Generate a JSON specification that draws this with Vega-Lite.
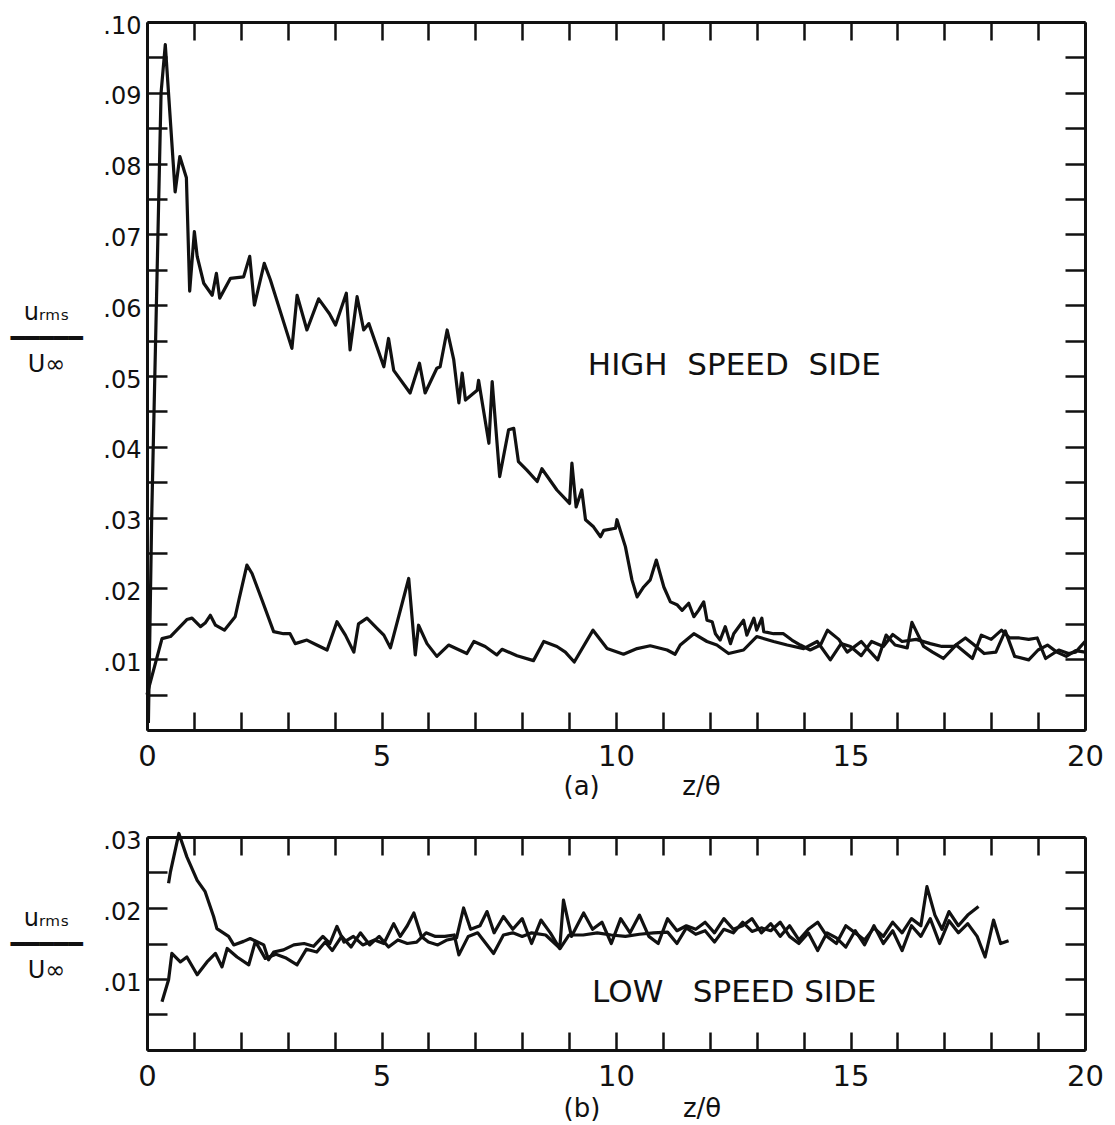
{
  "$schema": "https://vega.github.io/schema/vega-lite/v6.json",
  "background": "white",
  "padding": {"left": 9, "top": 14, "right": 5, "bottom": 5},
  "config": {"view": {"stroke": null}, "font": "DejaVu Sans"},
  "datasets": {
    "a": [
      {"s":"h","z":0.03,"u":0.001},{"s":"h","z":0.10,"u":0.030},{"s":"h","z":0.20,"u":0.060},{"s":"h","z":0.30,"u":0.090},{"s":"h","z":0.39,"u":0.0968},{"s":"h","z":0.60,"u":0.0760},{"s":"h","z":0.70,"u":0.0810},{"s":"h","z":0.84,"u":0.0780},{"s":"h","z":0.91,"u":0.0620},{"s":"h","z":1.01,"u":0.0704},{"s":"h","z":1.07,"u":0.0669},{"s":"h","z":1.21,"u":0.0631},{"s":"h","z":1.39,"u":0.0614},{"s":"h","z":1.48,"u":0.0645},{"s":"h","z":1.55,"u":0.0610},{"s":"h","z":1.78,"u":0.0638},{"s":"h","z":2.06,"u":0.0640},{"s":"h","z":2.19,"u":0.0669},{"s":"h","z":2.29,"u":0.0600},{"s":"h","z":2.50,"u":0.0659},{"s":"h","z":2.63,"u":0.0636},{"s":"h","z":3.09,"u":0.0539},{"s":"h","z":3.20,"u":0.0614},{"s":"h","z":3.41,"u":0.0565},{"s":"h","z":3.66,"u":0.0609},{"s":"h","z":3.89,"u":0.0588},{"s":"h","z":4.02,"u":0.0572},{"s":"h","z":4.25,"u":0.0617},{"s":"h","z":4.33,"u":0.0537},{"s":"h","z":4.48,"u":0.0612},{"s":"h","z":4.62,"u":0.0565},{"s":"h","z":4.73,"u":0.0574},{"s":"h","z":5.05,"u":0.0513},{"s":"h","z":5.15,"u":0.0553},{"s":"h","z":5.26,"u":0.0508},{"s":"h","z":5.61,"u":0.0476},{"s":"h","z":5.81,"u":0.0518},{"s":"h","z":5.93,"u":0.0476},{"s":"h","z":6.18,"u":0.0511},{"s":"h","z":6.25,"u":0.0513},{"s":"h","z":6.40,"u":0.0565},{"s":"h","z":6.54,"u":0.0523},{"s":"h","z":6.65,"u":0.0462},{"s":"h","z":6.72,"u":0.0504},{"s":"h","z":6.79,"u":0.0466},{"s":"h","z":7.04,"u":0.0480},{"s":"h","z":7.07,"u":0.0494},{"s":"h","z":7.29,"u":0.0405},{"s":"h","z":7.36,"u":0.0492},{"s":"h","z":7.52,"u":0.0358},{"s":"h","z":7.71,"u":0.0424},{"s":"h","z":7.82,"u":0.0426},{"s":"h","z":7.92,"u":0.0379},{"s":"h","z":8.10,"u":0.0367},{"s":"h","z":8.32,"u":0.0351},{"s":"h","z":8.42,"u":0.0369},{"s":"h","z":8.74,"u":0.0339},{"s":"h","z":9.01,"u":0.0320},{"s":"h","z":9.06,"u":0.0377},{"s":"h","z":9.15,"u":0.0315},{"s":"h","z":9.27,"u":0.0339},{"s":"h","z":9.35,"u":0.0297},{"s":"h","z":9.52,"u":0.0287},{"s":"h","z":9.67,"u":0.0273},{"s":"h","z":9.74,"u":0.0282},{"s":"h","z":9.99,"u":0.0285},{"s":"h","z":10.02,"u":0.0297},{"s":"h","z":10.20,"u":0.0259},{"s":"h","z":10.34,"u":0.0212},{"s":"h","z":10.45,"u":0.0188},{"s":"h","z":10.59,"u":0.0202},{"s":"h","z":10.73,"u":0.0212},{"s":"h","z":10.86,"u":0.0240},{"s":"h","z":11.02,"u":0.0202},{"s":"h","z":11.16,"u":0.0181},{"s":"h","z":11.30,"u":0.0177},{"s":"h","z":11.41,"u":0.0169},{"s":"h","z":11.55,"u":0.0179},{"s":"h","z":11.66,"u":0.0160},{"s":"h","z":11.76,"u":0.0169},{"s":"h","z":11.87,"u":0.0181},{"s":"h","z":11.94,"u":0.0155},{"s":"h","z":12.05,"u":0.0153},{"s":"h","z":12.12,"u":0.0136},{"s":"h","z":12.22,"u":0.0127},{"s":"h","z":12.33,"u":0.0146},{"s":"h","z":12.44,"u":0.0122},{"s":"h","z":12.51,"u":0.0136},{"s":"h","z":12.72,"u":0.0155},{"s":"h","z":12.79,"u":0.0134},{"s":"h","z":12.94,"u":0.0158},{"s":"h","z":13.00,"u":0.0141},{"s":"h","z":13.11,"u":0.0158},{"s":"h","z":13.15,"u":0.0139},{"s":"h","z":13.36,"u":0.0136},{"s":"h","z":13.57,"u":0.0136},{"s":"h","z":13.75,"u":0.0127},{"s":"h","z":13.93,"u":0.0120},{"s":"h","z":14.14,"u":0.0113},{"s":"h","z":14.36,"u":0.0120},{"s":"h","z":14.51,"u":0.0141},{"s":"h","z":14.75,"u":0.0128},{"s":"h","z":14.93,"u":0.0110},{"s":"h","z":15.23,"u":0.0125},{"s":"h","z":15.40,"u":0.0112},{"s":"h","z":15.58,"u":0.0099},{"s":"h","z":15.76,"u":0.0134},{"s":"h","z":15.95,"u":0.0120},{"s":"h","z":16.21,"u":0.0116},{"s":"h","z":16.31,"u":0.0152},{"s":"h","z":16.56,"u":0.0118},{"s":"h","z":16.75,"u":0.0110},{"s":"h","z":16.98,"u":0.0101},{"s":"h","z":17.25,"u":0.0120},{"s":"h","z":17.60,"u":0.0101},{"s":"h","z":17.79,"u":0.0134},{"s":"h","z":18.00,"u":0.0128},{"s":"h","z":18.22,"u":0.0141},{"s":"h","z":18.39,"u":0.0130},{"s":"h","z":18.60,"u":0.0130},{"s":"h","z":18.80,"u":0.0128},{"s":"h","z":18.98,"u":0.0130},{"s":"h","z":19.16,"u":0.0101},{"s":"h","z":19.44,"u":0.0113},{"s":"h","z":19.65,"u":0.0108},{"s":"h","z":19.80,"u":0.0110},{"s":"h","z":20.00,"u":0.0125},
      {"s":"l","z":0.00,"u":0.0050},{"s":"l","z":0.32,"u":0.0129},{"s":"l","z":0.50,"u":0.0132},{"s":"l","z":0.85,"u":0.0156},{"s":"l","z":0.96,"u":0.0158},{"s":"l","z":1.14,"u":0.0146},{"s":"l","z":1.24,"u":0.0151},{"s":"l","z":1.35,"u":0.0162},{"s":"l","z":1.46,"u":0.0148},{"s":"l","z":1.65,"u":0.0141},{"s":"l","z":1.88,"u":0.0160},{"s":"l","z":1.96,"u":0.0184},{"s":"l","z":2.13,"u":0.0233},{"s":"l","z":2.24,"u":0.0221},{"s":"l","z":2.45,"u":0.0184},{"s":"l","z":2.70,"u":0.0139},{"s":"l","z":2.91,"u":0.0136},{"s":"l","z":3.05,"u":0.0136},{"s":"l","z":3.16,"u":0.0122},{"s":"l","z":3.41,"u":0.0127},{"s":"l","z":3.62,"u":0.0120},{"s":"l","z":3.84,"u":0.0113},{"s":"l","z":4.05,"u":0.0153},{"s":"l","z":4.23,"u":0.0134},{"s":"l","z":4.41,"u":0.0110},{"s":"l","z":4.51,"u":0.0150},{"s":"l","z":4.69,"u":0.0158},{"s":"l","z":4.90,"u":0.0144},{"s":"l","z":5.05,"u":0.0134},{"s":"l","z":5.19,"u":0.0116},{"s":"l","z":5.58,"u":0.0214},{"s":"l","z":5.72,"u":0.0106},{"s":"l","z":5.79,"u":0.0148},{"s":"l","z":5.97,"u":0.0122},{"s":"l","z":6.18,"u":0.0104},{"s":"l","z":6.43,"u":0.0120},{"s":"l","z":6.82,"u":0.0108},{"s":"l","z":6.97,"u":0.0125},{"s":"l","z":7.21,"u":0.0118},{"s":"l","z":7.46,"u":0.0106},{"s":"l","z":7.57,"u":0.0114},{"s":"l","z":7.89,"u":0.0105},{"s":"l","z":8.24,"u":0.0098},{"s":"l","z":8.46,"u":0.0125},{"s":"l","z":8.74,"u":0.0118},{"s":"l","z":8.92,"u":0.0110},{"s":"l","z":9.11,"u":0.0096},{"s":"l","z":9.51,"u":0.0141},{"s":"l","z":9.81,"u":0.0115},{"s":"l","z":10.16,"u":0.0107},{"s":"l","z":10.45,"u":0.0115},{"s":"l","z":10.73,"u":0.0119},{"s":"l","z":11.09,"u":0.0113},{"s":"l","z":11.26,"u":0.0107},{"s":"l","z":11.37,"u":0.0120},{"s":"l","z":11.66,"u":0.0136},{"s":"l","z":11.94,"u":0.0125},{"s":"l","z":12.15,"u":0.0120},{"s":"l","z":12.40,"u":0.0108},{"s":"l","z":12.72,"u":0.0113},{"s":"l","z":13.00,"u":0.0132},{"s":"l","z":13.36,"u":0.0125},{"s":"l","z":13.65,"u":0.0120},{"s":"l","z":14.00,"u":0.0115},{"s":"l","z":14.29,"u":0.0125},{"s":"l","z":14.57,"u":0.0099},{"s":"l","z":14.80,"u":0.0122},{"s":"l","z":15.00,"u":0.0118},{"s":"l","z":15.23,"u":0.0105},{"s":"l","z":15.45,"u":0.0125},{"s":"l","z":15.70,"u":0.0118},{"s":"l","z":15.90,"u":0.0135},{"s":"l","z":16.10,"u":0.0125},{"s":"l","z":16.40,"u":0.0128},{"s":"l","z":16.70,"u":0.0122},{"s":"l","z":16.95,"u":0.0118},{"s":"l","z":17.20,"u":0.0118},{"s":"l","z":17.45,"u":0.0130},{"s":"l","z":17.62,"u":0.0121},{"s":"l","z":17.85,"u":0.0108},{"s":"l","z":18.10,"u":0.0110},{"s":"l","z":18.30,"u":0.0140},{"s":"l","z":18.50,"u":0.0104},{"s":"l","z":18.80,"u":0.0099},{"s":"l","z":19.00,"u":0.0113},{"s":"l","z":19.20,"u":0.0120},{"s":"l","z":19.40,"u":0.0110},{"s":"l","z":19.60,"u":0.0104},{"s":"l","z":19.80,"u":0.0112},{"s":"l","z":20.00,"u":0.0110}
    ],
    "b": [
      {"s":"p","z":0.46,"u":0.0235},{"s":"p","z":0.50,"u":0.0251},{"s":"p","z":0.68,"u":0.0305},{"s":"p","z":0.85,"u":0.0272},{"s":"p","z":1.07,"u":0.0239},{"s":"p","z":1.24,"u":0.0223},{"s":"p","z":1.42,"u":0.0188},{"s":"p","z":1.49,"u":0.0171},{"s":"p","z":1.74,"u":0.0160},{"s":"p","z":1.85,"u":0.0148},{"s":"p","z":2.06,"u":0.0153},{"s":"p","z":2.20,"u":0.0157},{"s":"p","z":2.49,"u":0.0148},{"s":"p","z":2.59,"u":0.0127},{"s":"p","z":2.70,"u":0.0138},{"s":"p","z":2.91,"u":0.0141},{"s":"p","z":3.13,"u":0.0148},{"s":"p","z":3.35,"u":0.0150},{"s":"p","z":3.55,"u":0.0146},{"s":"p","z":3.75,"u":0.0160},{"s":"p","z":3.90,"u":0.0150},{"s":"p","z":4.05,"u":0.0174},{"s":"p","z":4.20,"u":0.0152},{"s":"p","z":4.40,"u":0.0160},{"s":"p","z":4.60,"u":0.0148},{"s":"p","z":4.85,"u":0.0155},{"s":"p","z":5.05,"u":0.0150},{"s":"p","z":5.26,"u":0.0178},{"s":"p","z":5.40,"u":0.0160},{"s":"p","z":5.55,"u":0.0175},{"s":"p","z":5.69,"u":0.0193},{"s":"p","z":5.85,"u":0.0160},{"s":"p","z":6.00,"u":0.0152},{"s":"p","z":6.20,"u":0.0148},{"s":"p","z":6.40,"u":0.0155},{"s":"p","z":6.60,"u":0.0158},{"s":"p","z":6.75,"u":0.0200},{"s":"p","z":6.90,"u":0.0170},{"s":"p","z":7.10,"u":0.0175},{"s":"p","z":7.25,"u":0.0195},{"s":"p","z":7.40,"u":0.0165},{"s":"p","z":7.60,"u":0.0188},{"s":"p","z":7.80,"u":0.0170},{"s":"p","z":8.00,"u":0.0185},{"s":"p","z":8.20,"u":0.0150},{"s":"p","z":8.40,"u":0.0183},{"s":"p","z":8.60,"u":0.0165},{"s":"p","z":8.80,"u":0.0143},{"s":"p","z":8.88,"u":0.0211},{"s":"p","z":9.05,"u":0.0160},{"s":"p","z":9.31,"u":0.0193},{"s":"p","z":9.50,"u":0.0170},{"s":"p","z":9.70,"u":0.0180},{"s":"p","z":9.90,"u":0.0150},{"s":"p","z":10.10,"u":0.0185},{"s":"p","z":10.30,"u":0.0165},{"s":"p","z":10.50,"u":0.0190},{"s":"p","z":10.70,"u":0.0160},{"s":"p","z":10.90,"u":0.0150},{"s":"p","z":11.10,"u":0.0185},{"s":"p","z":11.30,"u":0.0168},{"s":"p","z":11.50,"u":0.0175},{"s":"p","z":11.70,"u":0.0170},{"s":"p","z":11.90,"u":0.0180},{"s":"p","z":12.10,"u":0.0165},{"s":"p","z":12.30,"u":0.0185},{"s":"p","z":12.50,"u":0.0170},{"s":"p","z":12.70,"u":0.0175},{"s":"p","z":12.90,"u":0.0185},{"s":"p","z":13.10,"u":0.0165},{"s":"p","z":13.30,"u":0.0178},{"s":"p","z":13.50,"u":0.0160},{"s":"p","z":13.70,"u":0.0175},{"s":"p","z":13.90,"u":0.0155},{"s":"p","z":14.10,"u":0.0170},{"s":"p","z":14.30,"u":0.0180},{"s":"p","z":14.50,"u":0.0160},{"s":"p","z":14.70,"u":0.0150},{"s":"p","z":14.90,"u":0.0175},{"s":"p","z":15.10,"u":0.0165},{"s":"p","z":15.30,"u":0.0155},{"s":"p","z":15.50,"u":0.0172},{"s":"p","z":15.70,"u":0.0160},{"s":"p","z":15.90,"u":0.0180},{"s":"p","z":16.10,"u":0.0165},{"s":"p","z":16.30,"u":0.0185},{"s":"p","z":16.50,"u":0.0175},{"s":"p","z":16.63,"u":0.0230},{"s":"p","z":16.80,"u":0.0190},{"s":"p","z":16.95,"u":0.0170},{"s":"p","z":17.10,"u":0.0195},{"s":"p","z":17.30,"u":0.0175},{"s":"p","z":17.50,"u":0.0190},{"s":"p","z":17.73,"u":0.0202},
      {"s":"q","z":0.32,"u":0.0068},{"s":"q","z":0.46,"u":0.0099},{"s":"q","z":0.53,"u":0.0136},{"s":"q","z":0.71,"u":0.0124},{"s":"q","z":0.85,"u":0.0131},{"s":"q","z":1.07,"u":0.0106},{"s":"q","z":1.28,"u":0.0124},{"s":"q","z":1.46,"u":0.0136},{"s":"q","z":1.60,"u":0.0117},{"s":"q","z":1.71,"u":0.0143},{"s":"q","z":1.92,"u":0.0131},{"s":"q","z":2.17,"u":0.0120},{"s":"q","z":2.31,"u":0.0153},{"s":"q","z":2.52,"u":0.0129},{"s":"q","z":2.75,"u":0.0135},{"s":"q","z":2.95,"u":0.0130},{"s":"q","z":3.20,"u":0.0120},{"s":"q","z":3.40,"u":0.0142},{"s":"q","z":3.62,"u":0.0138},{"s":"q","z":3.80,"u":0.0152},{"s":"q","z":3.95,"u":0.0140},{"s":"q","z":4.15,"u":0.0160},{"s":"q","z":4.35,"u":0.0145},{"s":"q","z":4.55,"u":0.0165},{"s":"q","z":4.75,"u":0.0148},{"s":"q","z":4.95,"u":0.0160},{"s":"q","z":5.15,"u":0.0145},{"s":"q","z":5.35,"u":0.0155},{"s":"q","z":5.55,"u":0.0150},{"s":"q","z":5.75,"u":0.0152},{"s":"q","z":5.95,"u":0.0165},{"s":"q","z":6.15,"u":0.0160},{"s":"q","z":6.35,"u":0.0160},{"s":"q","z":6.55,"u":0.0162},{"s":"q","z":6.65,"u":0.0134},{"s":"q","z":6.85,"u":0.0160},{"s":"q","z":7.05,"u":0.0165},{"s":"q","z":7.39,"u":0.0136},{"s":"q","z":7.60,"u":0.0162},{"s":"q","z":7.80,"u":0.0165},{"s":"q","z":8.00,"u":0.0160},{"s":"q","z":8.20,"u":0.0165},{"s":"q","z":8.50,"u":0.0162},{"s":"q","z":8.81,"u":0.0143},{"s":"q","z":9.00,"u":0.0162},{"s":"q","z":9.30,"u":0.0162},{"s":"q","z":9.60,"u":0.0165},{"s":"q","z":9.90,"u":0.0162},{"s":"q","z":10.20,"u":0.0160},{"s":"q","z":10.50,"u":0.0163},{"s":"q","z":10.80,"u":0.0165},{"s":"q","z":11.10,"u":0.0166},{"s":"q","z":11.30,"u":0.0150},{"s":"q","z":11.50,"u":0.0172},{"s":"q","z":11.70,"u":0.0163},{"s":"q","z":11.90,"u":0.0168},{"s":"q","z":12.10,"u":0.0152},{"s":"q","z":12.30,"u":0.0170},{"s":"q","z":12.50,"u":0.0165},{"s":"q","z":12.70,"u":0.0180},{"s":"q","z":12.90,"u":0.0167},{"s":"q","z":13.10,"u":0.0172},{"s":"q","z":13.30,"u":0.0168},{"s":"q","z":13.50,"u":0.0180},{"s":"q","z":13.70,"u":0.0160},{"s":"q","z":13.90,"u":0.0150},{"s":"q","z":14.10,"u":0.0165},{"s":"q","z":14.30,"u":0.0140},{"s":"q","z":14.50,"u":0.0165},{"s":"q","z":14.70,"u":0.0158},{"s":"q","z":14.90,"u":0.0145},{"s":"q","z":15.10,"u":0.0168},{"s":"q","z":15.30,"u":0.0148},{"s":"q","z":15.50,"u":0.0175},{"s":"q","z":15.70,"u":0.0150},{"s":"q","z":15.90,"u":0.0168},{"s":"q","z":16.10,"u":0.0140},{"s":"q","z":16.30,"u":0.0175},{"s":"q","z":16.50,"u":0.0160},{"s":"q","z":16.70,"u":0.0185},{"s":"q","z":16.90,"u":0.0150},{"s":"q","z":17.10,"u":0.0182},{"s":"q","z":17.30,"u":0.0165},{"s":"q","z":17.50,"u":0.0178},{"s":"q","z":17.70,"u":0.0160},{"s":"q","z":17.87,"u":0.0131},{"s":"q","z":18.05,"u":0.0183},{"s":"q","z":18.20,"u":0.0150},{"s":"q","z":18.37,"u":0.0154}
    ],
    "labA": [{"z": 9.4, "u": 0.0514, "t": "HIGH\u00a0\u00a0SPEED\u00a0\u00a0SIDE"}],
    "labB": [{"z": 9.49, "u": 0.0080, "t": "LOW\u00a0\u00a0\u00a0SPEED\u00a0SIDE"}]
  },
  "vconcat": [
    {
      "width": 938,
      "height": 708,
      "layer": [
        {
          "data": {"name": "a"},
          "mark": {"type": "line", "color": "#111", "strokeWidth": 3.2, "strokeJoin": "round"},
          "encoding": {
            "x": {"field": "z", "type": "quantitative", "scale": {"domain": [0, 20], "nice": false},
              "axis": {"orient": "bottom", "values": [0,1,2,3,4,5,6,7,8,9,10,11,12,13,14,15,16,17,18,19,20], "format": "d",
                "labelExpr": "datum.value % 5 == 0 ? datum.label : ''", "labelFlush": false, "labelOverlap": false,
                "labelFont": "DejaVu Sans", "labelFontSize": 29, "labelColor": "#111", "labelPadding": 30,
                "tickSize": -18, "tickWidth": 2.5, "tickColor": "#111", "domainColor": "#111", "domainWidth": 3, "grid": false,
                "title": "(a)\u00a0\u00a0\u00a0\u00a0\u00a0\u00a0\u00a0\u00a0\u00a0\u00a0z/θ", "titleFont": "DejaVu Sans", "titleFontSize": 26, "titleFontWeight": "normal", "titleColor": "#111",
                "titleAlign": "left", "titleBaseline": "middle", "titleX": 416, "titleY": 56}},
            "y": {"field": "u", "type": "quantitative", "scale": {"domain": [0, 0.1], "nice": false},
              "axis": {"orient": "left", "values": [0,0.005,0.01,0.015,0.02,0.025,0.03,0.035,0.04,0.045,0.05,0.055,0.06,0.065,0.07,0.075,0.08,0.085,0.09,0.095,0.1],
                "labelExpr": "datum.value > 0.001 && round(datum.value*1000) % 10 == 0 ? replace(format(datum.value, '.2f'), '0.', '.') : ''",
                "labelOverlap": false, "labelFont": "DejaVu Sans", "labelFontSize": 24, "labelColor": "#111", "labelPadding": 26, "labelOffset": 4,
                "tickSize": -20, "tickWidth": 2.5, "tickColor": "#111", "domainColor": "#111", "domainWidth": 3, "grid": false,
                "title": ["uᵣₘₛ", "━━━━━", "U∞"], "titleFont": "DejaVu Sans", "titleFontSize": 24, "titleFontWeight": "normal", "titleColor": "#111",
                "titleAngle": 0, "titleAlign": "center", "titleBaseline": "middle", "titleLineHeight": 26, "titleX": -101, "titleY": 290}},
            "detail": {"field": "s"}
          }
        },
        {
          "data": {"name": "labA"},
          "mark": {"type": "text", "align": "left", "baseline": "middle", "font": "DejaVu Sans", "fontSize": 31, "color": "#111"},
          "encoding": {
            "x": {"field": "z", "type": "quantitative", "scale": {"domain": [0, 20], "nice": false},
              "axis": {"orient": "top", "values": [0,1,2,3,4,5,6,7,8,9,10,11,12,13,14,15,16,17,18,19,20], "labels": false,
                "tickSize": -18, "tickWidth": 2.5, "tickColor": "#111", "domainColor": "#111", "domainWidth": 3, "grid": false, "title": null}},
            "y": {"field": "u", "type": "quantitative", "scale": {"domain": [0, 0.1], "nice": false},
              "axis": {"orient": "right", "values": [0,0.005,0.01,0.015,0.02,0.025,0.03,0.035,0.04,0.045,0.05,0.055,0.06,0.065,0.07,0.075,0.08,0.085,0.09,0.095,0.1], "labels": false,
                "tickSize": -20, "tickWidth": 2.5, "tickColor": "#111", "domainColor": "#111", "domainWidth": 3, "grid": false, "title": null}},
            "text": {"field": "t"}
          }
        }
      ],
      "resolve": {"axis": {"x": "independent", "y": "independent"}}
    },
    {
      "width": 938,
      "height": 213,
      "layer": [
        {
          "data": {"name": "b"},
          "mark": {"type": "line", "color": "#111", "strokeWidth": 3.2, "strokeJoin": "round"},
          "encoding": {
            "x": {"field": "z", "type": "quantitative", "scale": {"domain": [0, 20], "nice": false},
              "axis": {"orient": "bottom", "values": [0,1,2,3,4,5,6,7,8,9,10,11,12,13,14,15,16,17,18,19,20], "format": "d",
                "labelExpr": "datum.value % 5 == 0 ? datum.label : ''", "labelFlush": false, "labelOverlap": false,
                "labelFont": "DejaVu Sans", "labelFontSize": 29, "labelColor": "#111", "labelPadding": 30,
                "tickSize": -18, "tickWidth": 2.5, "tickColor": "#111", "domainColor": "#111", "domainWidth": 3, "grid": false,
                "title": "(b)\u00a0\u00a0\u00a0\u00a0\u00a0\u00a0\u00a0\u00a0\u00a0\u00a0z/θ", "titleFont": "DejaVu Sans", "titleFontSize": 26, "titleFontWeight": "normal", "titleColor": "#111",
                "titleAlign": "left", "titleBaseline": "middle", "titleX": 416, "titleY": 58}},
            "y": {"field": "u", "type": "quantitative", "scale": {"domain": [0, 0.03], "nice": false},
              "axis": {"orient": "left", "values": [0,0.005,0.01,0.015,0.02,0.025,0.03],
                "labelExpr": "datum.value > 0.001 && round(datum.value*1000) % 10 == 0 ? replace(format(datum.value, '.2f'), '0.', '.') : ''",
                "labelOverlap": false, "labelFont": "DejaVu Sans", "labelFontSize": 24, "labelColor": "#111", "labelPadding": 26, "labelOffset": 4,
                "tickSize": -20, "tickWidth": 2.5, "tickColor": "#111", "domainColor": "#111", "domainWidth": 3, "grid": false,
                "title": ["uᵣₘₛ", "━━━━━", "U∞"], "titleFont": "DejaVu Sans", "titleFontSize": 24, "titleFontWeight": "normal", "titleColor": "#111",
                "titleAngle": 0, "titleAlign": "center", "titleBaseline": "middle", "titleLineHeight": 26, "titleX": -101, "titleY": 81}},
            "detail": {"field": "s"}
          }
        },
        {
          "data": {"name": "labB"},
          "mark": {"type": "text", "align": "left", "baseline": "middle", "font": "DejaVu Sans", "fontSize": 31, "color": "#111"},
          "encoding": {
            "x": {"field": "z", "type": "quantitative", "scale": {"domain": [0, 20], "nice": false},
              "axis": {"orient": "top", "values": [0,1,2,3,4,5,6,7,8,9,10,11,12,13,14,15,16,17,18,19,20], "labels": false,
                "tickSize": -18, "tickWidth": 2.5, "tickColor": "#111", "domainColor": "#111", "domainWidth": 3, "grid": false, "title": null}},
            "y": {"field": "u", "type": "quantitative", "scale": {"domain": [0, 0.03], "nice": false},
              "axis": {"orient": "right", "values": [0,0.005,0.01,0.015,0.02,0.025,0.03], "labels": false,
                "tickSize": -20, "tickWidth": 2.5, "tickColor": "#111", "domainColor": "#111", "domainWidth": 3, "grid": false, "title": null}},
            "text": {"field": "t"}
          }
        }
      ],
      "resolve": {"axis": {"x": "independent", "y": "independent"}}
    }
  ],
  "spacing": 107,
  "bounds": "flush"
}
